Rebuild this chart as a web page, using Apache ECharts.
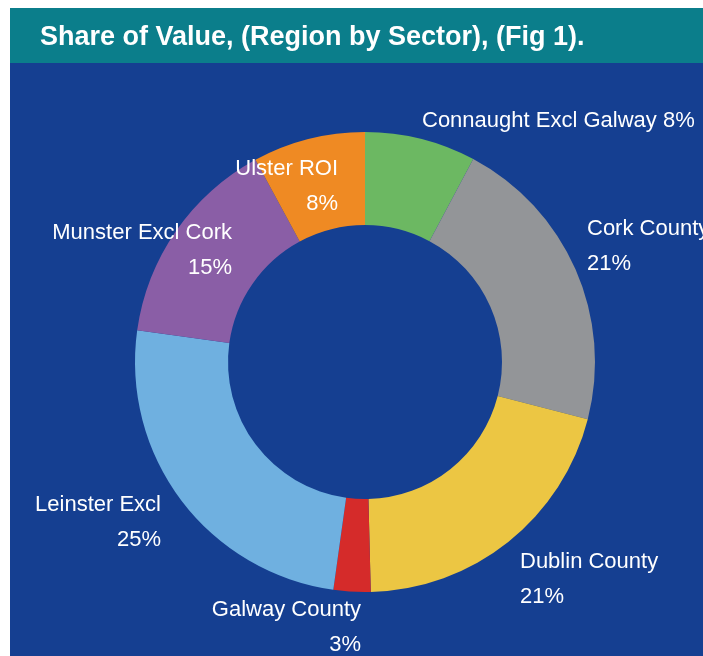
<!DOCTYPE html>
<html>
<head>
<meta charset="utf-8">
<script src="https://cdn.jsdelivr.net/npm/echarts@6/dist/echarts.min.js"></script>
<style>
  html, body { margin: 0; padding: 0; background: #fff; }
  #chart { width: 703px; height: 656px; }
</style>
</head>
<body>
<div id="chart"></div>
<script>
// 数据
var regions = ['Connaught Excl Galway', 'Cork County', 'Dublin County', 'Galway County',
               'Leinster Excl', 'Munster Excl Cork', 'Ulster ROI'];
var shares = [7.8, 21.2, 20.6, 2.6, 25.0, 14.9, 7.9];
var colors = ['#6cb862', '#939598', '#ecc643', '#d52b2a', '#6fb0e0', '#8a5ea6', '#ef8a23'];

// label anchors (x, y centre, align) for each slice
var labelPos = [
    [422, 121, 'left'],
    [587, 246, 'left'],
    [520, 579, 'left'],
    [361, 627, 'right'],
    [161, 522, 'right'],
    [232, 250, 'right'],
    [338, 186, 'right']
];

var myChart = echarts.init(document.getElementById('chart'));

var option = {
    backgroundColor: '#fff',
    animation: false,
    title: {
        text: 'Share of Value, (Region by Sector), (Fig 1).',
        left: 35,
        top: 19,
        textStyle: {
            color: '#fff',
            fontSize: 27,
            fontWeight: 'bold',
            fontFamily: 'Liberation Sans, Arial, sans-serif'
        }
    },
    graphic: [
        { type: 'rect', z: -10, shape: { x: 10, y: 8, width: 693, height: 55 }, style: { fill: '#0b7e8b' } },
        { type: 'rect', z: -10, shape: { x: 10, y: 63, width: 693, height: 593 }, style: { fill: '#153f91' } }
    ],
    series: [{
        type: 'pie',
        center: [365, 362],
        radius: [137, 230],
        startAngle: 90,
        clockwise: true,
        avoidLabelOverlap: false,
        label: {
            show: true,
            color: '#fff',
            fontSize: 22,
            lineHeight: 35,
            fontFamily: 'Liberation Sans, Arial, sans-serif',
            formatter: function (p) {
                var pct = Math.round(p.percent) + '%';
                return p.dataIndex === 0 ? p.name + ' ' + pct : p.name + '\n' + pct;
            }
        },
        labelLine: { show: false },
        labelLayout: function (params) {
            var lp = labelPos[params.dataIndex];
            return { x: lp[0], y: lp[1], align: lp[2], verticalAlign: 'middle' };
        },
        data: regions.map(function (r, i) {
            return { name: r, value: shares[i], itemStyle: { color: colors[i] } };
        })
    }]
};

myChart.setOption(option);
</script>
</body>
</html>
